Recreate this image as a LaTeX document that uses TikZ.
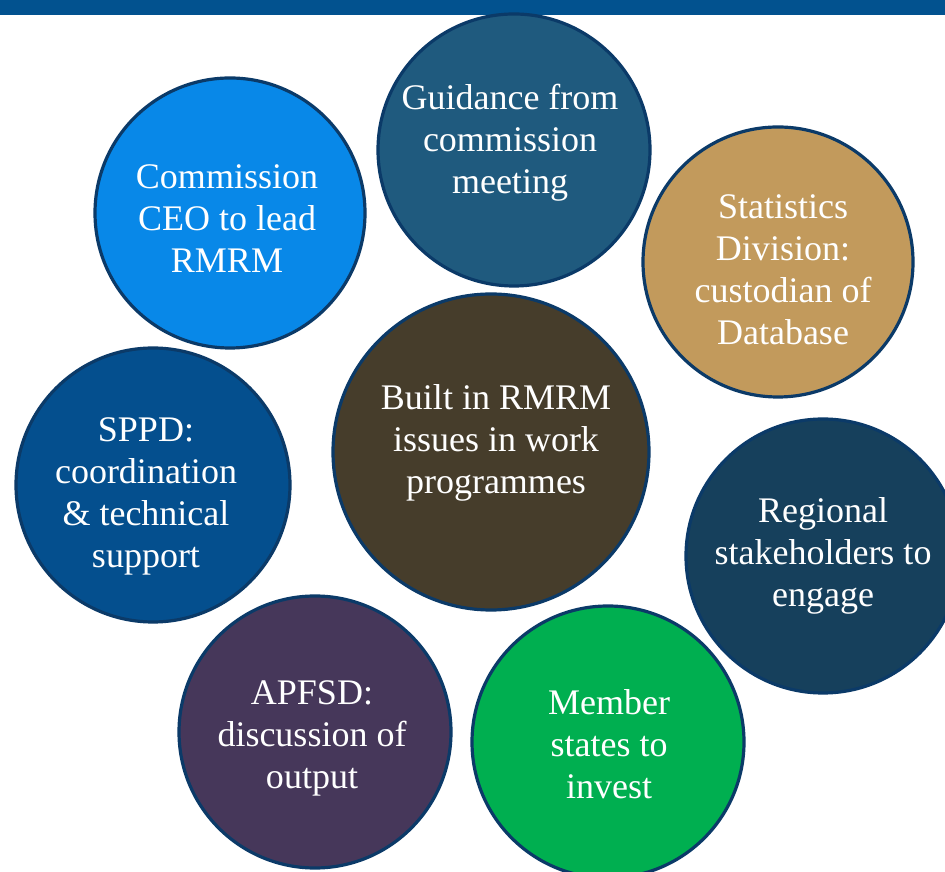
\documentclass[tikz,border=0pt]{standalone}
\usepackage{fontspec}
\setmainfont{Liberation Serif}
\usepackage{tikz}
\definecolor{bandblue}{HTML}{02528F}
\definecolor{rimblue}{HTML}{0B3A68}
\definecolor{guidecol}{HTML}{1F5A7E}
\definecolor{ceocol}{HTML}{0888E8}
\definecolor{statcol}{HTML}{C29A5C}
\definecolor{builtcol}{HTML}{463D2B}
\definecolor{sppdcol}{HTML}{044F8E}
\definecolor{regcol}{HTML}{16405C}
\definecolor{apfcol}{HTML}{46375A}
\definecolor{membcol}{HTML}{00AF50}
\tikzset{
    bubble/.style={circle,draw=rimblue,line width=3.2bp,inner sep=0pt},
    bubbletext/.style={text=white,align=center,inner sep=0pt,
        font=\fontsize{36bp}{42bp}\selectfont},
    band/.style={fill=bandblue,draw=none}
}
\begin{document}
\begin{tikzpicture}[x=1bp,y=1bp]
\useasboundingbox[fill=white](0,0)rectangle(945,872);
\fill[band](0,857)rectangle(945,872);
% circles
\node[bubble,fill=guidecol,minimum size=272bp](guide) at (514,722){};
\node[bubble,fill=ceocol,minimum size=270bp](ceo) at (230,659){};
\node[bubble,fill=statcol,minimum size=270bp](stat) at (778,610){};
\node[bubble,fill=builtcol,minimum size=316bp](built) at (491,420){};
\node[bubble,fill=sppdcol,minimum size=274bp](sppd) at (153,387){};
\node[bubble,fill=regcol,minimum size=274bp](reg) at (823,316){};
\node[bubble,fill=apfcol,minimum size=272bp](apf) at (315,140){};
\node[bubble,fill=membcol,minimum size=272bp](memb) at (608,130){};
% texts
\node[bubbletext](guidetxt) at (510,729){Guidance from\\commission\\meeting};
\node[bubbletext](ceotxt) at (227,653){Commission\\CEO to lead\\RMRM};
\node[bubbletext](stattxt) at (783,602){Statistics\\Division:\\custodian of\\Database};
\node[bubbletext](builttxt) at (496,429){Built in RMRM\\issues in work\\programmes};
\node[bubbletext](sppdtxt) at (146,376){SPPD:\\coordination\\\& technical\\support};
\node[bubbletext](regtxt) at (823,316){Regional\\stakeholders to\\engage};
\node[bubbletext](apftxt) at (312,134){APFSD:\\discussion of\\output};
\node[bubbletext](membtxt) at (609,128){Member\\states to\\invest};
\end{tikzpicture}
\end{document}
